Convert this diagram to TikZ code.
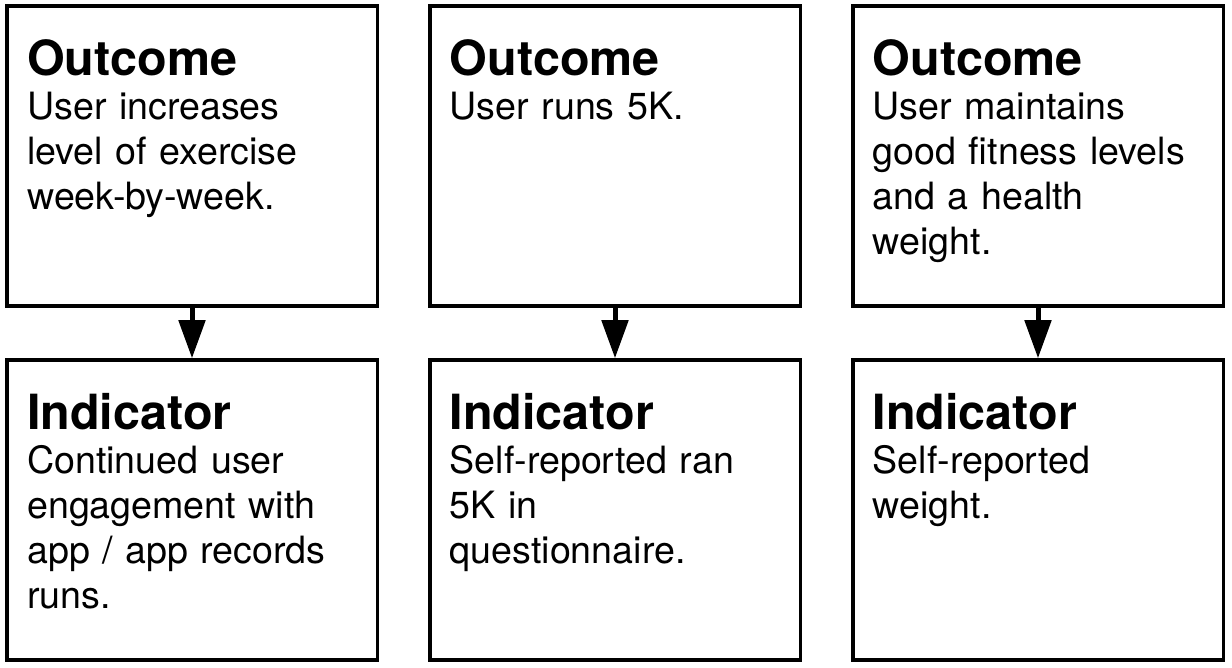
\documentclass[tikz,border=0pt]{standalone}
\usepackage{fontspec}
\setmainfont{TeX Gyre Heros}
\usetikzlibrary{arrows.meta,positioning,calc}
\newcommand{\cardhead}[1]{{\fontsize{48.5}{45}\selectfont\bfseries #1}}

\begin{document}
\begin{tikzpicture}[>={Triangle[length=38pt,width=26pt]}, x=1pt, y=1pt,
    card/.style={draw, line width=3.5pt, minimum width=370.5pt, minimum height=300pt, inner sep=0pt},
    cardtext/.style={anchor=base west, inner sep=0pt, text width=340pt, align=left,
        font=\fontsize{37.6}{44.7}\selectfont},
    link/.style={->, line width=5pt}]
    \useasboundingbox (0,0) rectangle (1232,668);
    % outcome row
    \node[card] (out1) at (192,512) {};
    \node[card, right=49pt of out1] (out2) {};
    \node[card, right=49pt of out2] (out3) {};
    % indicator row
    \node[card, below=50.5pt of out1] (ind1) {};
    \node[card, below=50.5pt of out2] (ind2) {};
    \node[card, below=50.5pt of out3] (ind3) {};
    % texts
    \node[cardtext] (out1t) at ($(out1.north west)+(22,-71)$) {\cardhead{Outcome}\\User increases\\level of exercise\\week-by-week.};
    \node[cardtext] (out2t) at ($(out2.north west)+(21.5,-71)$) {\cardhead{Outcome}\\User runs 5K.};
    \node[cardtext] (out3t) at ($(out3.north west)+(21.5,-71)$) {\cardhead{Outcome}\\User maintains\\good fitness levels\\and a health\\weight.};
    \node[cardtext] (ind1t) at ($(ind1.north west)+(22,-71)$) {\cardhead{Indicator}\\Continued user\\engagement with\\app / app records\\runs.};
    \node[cardtext] (ind2t) at ($(ind2.north west)+(21.5,-71)$) {\cardhead{Indicator}\\Self-reported ran\\5K in\\questionnaire.};
    \node[cardtext] (ind3t) at ($(ind3.north west)+(21.5,-71)$) {\cardhead{Indicator}\\Self-reported\\weight.};
    % arrows
    \draw[link] (out1) -- (ind1);
    \draw[link] (out2) -- (ind2);
    \draw[link] (out3) -- (ind3);
\end{tikzpicture}
\end{document}
